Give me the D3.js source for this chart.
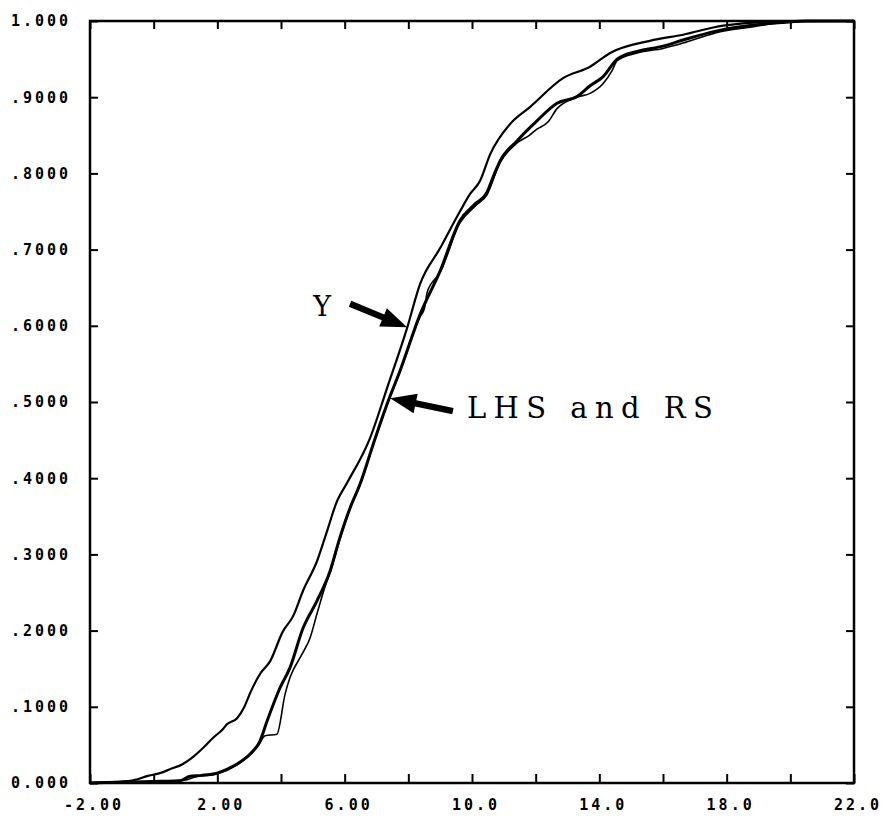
<!DOCTYPE html>
<html><head><meta charset="utf-8">
<script src="https://cdn.jsdelivr.net/npm/d3@7"></script>
<style>body{margin:0;background:#fff}svg{display:block}</style>
</head><body><svg id="c" width="891" height="824"></svg>
<script>
// ---- data ----
const xTickValues = [-2,0,2,4,6,8,10,12,14,16,18,20,22];
const xLabelValues = [-2,2,6,10,14,18,22];
const xLabels = ["-2.00","2.00","6.00","10.0","14.0","18.0","22.0"];
const yTickValues = [0,0.1,0.2,0.3,0.4,0.5,0.6,0.7,0.8,0.9,1.0];
const yLabels = ["0.000",".1000",".2000",".3000",".4000",".5000",".6000",".7000",".8000",".9000","1.000"];

const seriesYx = [-2.0,-1.5,-1.0,-0.5,-0.21,0.2,0.51,0.92,1.2,1.55,1.86,2.18,2.30,2.62,2.85,3.03,3.34,3.66,4.06,4.38,4.69,5.13,5.45,5.76,6.05,6.80,7.33,7.96,8.37,9.00,9.62,9.94,10.25,10.57,11.20,11.82,12.86,13.71,14.34,15.59,16.63,17.89,19.77,22.0];
const seriesYp = [0.0,0.001,0.002,0.005,0.009,0.013,0.018,0.025,0.033,0.046,0.059,0.071,0.077,0.085,0.100,0.118,0.143,0.160,0.199,0.219,0.252,0.291,0.331,0.370,0.392,0.453,0.518,0.597,0.655,0.702,0.750,0.773,0.790,0.825,0.865,0.887,0.925,0.940,0.958,0.974,0.982,0.994,0.9995,1.0];

const seriesLHSx = [-2.0,-1.0,0.0,0.83,1.14,1.5,1.99,2.3,2.62,3.03,3.34,3.56,3.97,4.28,4.69,5.13,5.54,5.85,6.17,6.48,6.9,7.33,7.74,8.37,9.00,9.62,10.1,10.47,10.66,10.88,11.42,12.04,12.67,13.30,13.71,14.12,14.56,15.19,16.0,16.63,17.70,18.74,19.77,20.5,22.0];
const seriesLHSp = [0.0,0.001,0.002,0.003,0.009,0.010,0.013,0.018,0.025,0.038,0.055,0.081,0.125,0.151,0.203,0.239,0.278,0.322,0.361,0.392,0.445,0.497,0.541,0.615,0.672,0.738,0.760,0.775,0.795,0.816,0.843,0.869,0.892,0.901,0.915,0.927,0.950,0.960,0.967,0.975,0.987,0.994,0.998,1.0,1.0];

const seriesRSx = [-2.0,-1.0,0.0,0.6,1.0,1.3,1.99,2.62,3.03,3.3,3.50,3.87,4.13,4.28,4.66,4.91,5.13,5.4,5.54,5.85,6.17,6.48,6.9,7.33,7.74,8.37,8.5,8.6,9.0,9.62,10.1,10.47,10.88,11.42,11.8,12.04,12.4,12.67,13.30,13.71,14.12,14.4,14.56,15.19,16.0,16.63,17.3,17.70,18.74,19.77,20.5,22.0];
const seriesRSp = [0.0,0.001,0.002,0.003,0.004,0.008,0.012,0.024,0.037,0.050,0.062,0.064,0.117,0.138,0.169,0.190,0.222,0.260,0.276,0.320,0.360,0.391,0.444,0.496,0.540,0.612,0.622,0.645,0.670,0.735,0.757,0.772,0.814,0.840,0.850,0.858,0.868,0.885,0.900,0.905,0.918,0.935,0.948,0.958,0.964,0.971,0.980,0.985,0.992,0.998,1.0,1.0];

// annotations in data coordinates
const annY = {text:"Y", at:[5.29,0.625], from:[6.17,0.629], to:[7.96,0.598]};
const annLHS = {text:"LHS and RS", at:[9.84,0.479], from:[9.40,0.488], to:[7.43,0.505]};

// ---- drawing ----
const svg = d3.select("#c");
const x = d3.scaleLinear().domain([-2,22]).range([90,854]);
const y = d3.scaleLinear().domain([0,1]).range([783,21]);

const line = d3.line().x(d=>x(d[0])).y(d=>y(d[1])).curve(d3.curveMonotoneX);
function pts(xs,ps){return xs.map((v,i)=>[v,ps[i]]);}

// curves
svg.append("path").datum(pts(seriesRSx,seriesRSp)).attr("d",line)
  .attr("fill","none").attr("stroke","#000").attr("stroke-width",1.6).attr("stroke-linejoin","round");
svg.append("path").datum(pts(seriesLHSx,seriesLHSp)).attr("d",line)
  .attr("fill","none").attr("stroke","#000").attr("stroke-width",3).attr("stroke-linejoin","round");
svg.append("path").datum(pts(seriesYx,seriesYp)).attr("d",line)
  .attr("fill","none").attr("stroke","#000").attr("stroke-width",2.2).attr("stroke-linejoin","round");

// axes ticks (inward)
function styleAxis(g){g.select(".domain").remove();g.selectAll("text").remove();g.selectAll("line").attr("stroke","#000").attr("stroke-width",2);}
svg.append("g").attr("transform",`translate(0,${y(0)})`)
  .call(d3.axisBottom(x).tickValues(xTickValues).tickSize(-9)).call(styleAxis);
svg.append("g").attr("transform",`translate(0,${y(1)})`)
  .call(d3.axisTop(x).tickValues(xTickValues).tickSize(-8)).call(styleAxis);
svg.append("g").attr("transform",`translate(${x(-2)},0)`)
  .call(d3.axisLeft(y).tickValues(yTickValues).tickSize(-8)).call(styleAxis);
svg.append("g").attr("transform",`translate(${x(22)},0)`)
  .call(d3.axisRight(y).tickValues(yTickValues).tickSize(-8)).call(styleAxis);

// frame
svg.append("rect").attr("x",x(-2)).attr("y",y(1)).attr("width",x(22)-x(-2)).attr("height",y(0)-y(1))
  .attr("fill","none").attr("stroke","#000").attr("stroke-width",2.5);

// tick labels
const lblFont = "'DejaVu Sans Mono', monospace";
svg.append("g").selectAll("text").data(xLabelValues).join("text")
  .attr("x",d=>x(d)+4).attr("y",y(0)+27)
  .attr("text-anchor","middle").attr("font-family",lblFont).attr("font-weight","bold")
  .attr("font-size",15).attr("letter-spacing",3).attr("fill","#000")
  .text((d,i)=>xLabels[i]);
svg.append("g").selectAll("text").data(yTickValues).join("text")
  .attr("x",11).attr("y",d=>y(d)).attr("dy","0.36em")
  .attr("text-anchor","start").attr("font-family",lblFont).attr("font-weight","bold")
  .attr("font-size",15).attr("letter-spacing",3).attr("fill","#000")
  .text((d,i)=>yLabels[i]);

// arrows
function arrow(a){
  const x1=x(a.from[0]),y1=y(a.from[1]),x2=x(a.to[0]),y2=y(a.to[1]);
  const dx=x2-x1,dy=y2-y1,L=Math.hypot(dx,dy),ux=dx/L,uy=dy/L,nx=-uy,ny=ux;
  const hl=26,hw=10,sw=3.2;
  const bx=x2-ux*hl,by=y2-uy*hl;
  const p=[[x1+nx*sw,y1+ny*sw],[bx+nx*sw,by+ny*sw],[bx+nx*hw,by+ny*hw],[x2,y2],
           [bx-nx*hw,by-ny*hw],[bx-nx*sw,by-ny*sw],[x1-nx*sw,y1-ny*sw]];
  svg.append("path").attr("d","M"+p.map(q=>q.join(",")).join("L")+"Z").attr("fill","#000");
}
arrow(annY); arrow(annLHS);

const annFont = "'DejaVu Serif', serif";
svg.append("text").attr("x",x(annY.at[0])).attr("y",y(annY.at[1])).attr("dy","0.36em")
  .attr("text-anchor","middle").attr("font-family",annFont).attr("font-size",27).attr("fill","#000")
  .text(annY.text);
svg.append("text").attr("x",x(annLHS.at[0])).attr("y",y(annLHS.at[1]))
  .attr("font-family",annFont).attr("font-size",29).attr("fill","#000")
  .attr("textLength",246).attr("lengthAdjust","spacing")
  .text(annLHS.text);
</script></body></html>
